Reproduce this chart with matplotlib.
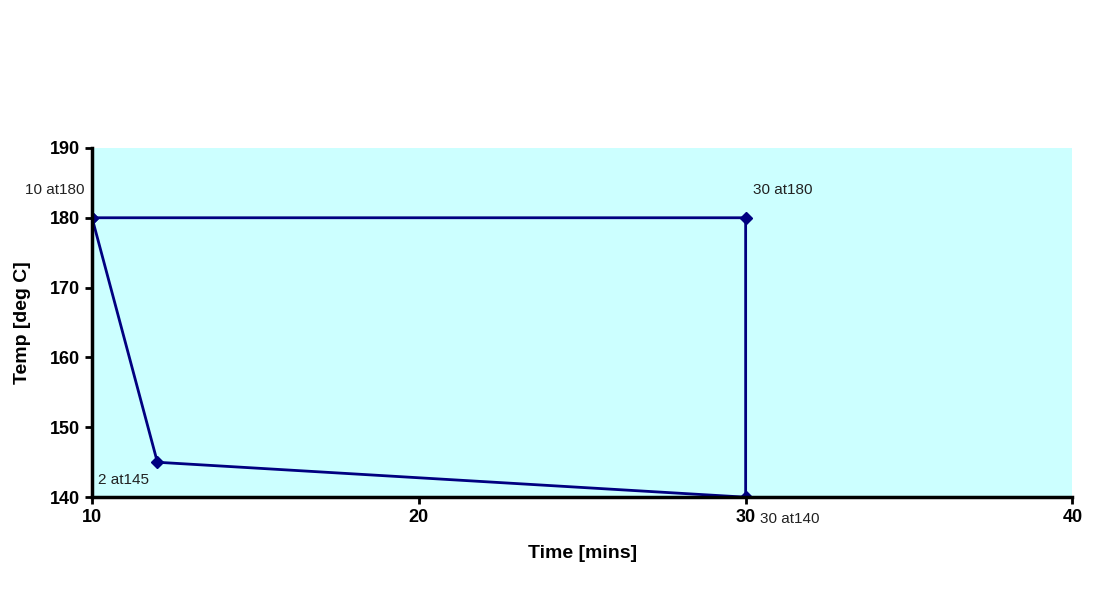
import matplotlib
matplotlib.use('Agg')
import matplotlib.pyplot as plt

plt.rcParams['font.family'] = ['Liberation Sans', 'DejaVu Sans']

# path of the temperature cycle
time_min = [10, 12, 30, 30, 10]
temp_c = [180, 145, 140, 180, 180]
point_labels = ['10 at180', '2 at145', '30 at140', '30 at180']
label_offsets = [(-48, 20), (-43, -13), (10, -16), (5, 20)]

fig = plt.figure(figsize=(10.93, 5.94), dpi=100)
ax = fig.add_axes([0.0842, 0.163, 0.897, 0.588])
ax.set_facecolor('#CCFFFF')

ax.plot(time_min, temp_c, color='#000080', linewidth=2, marker='D', markersize=6)

for (x, y), lab, off in zip(zip(time_min[:4], temp_c[:4]), point_labels, label_offsets):
    ax.annotate(lab, (x, y), xytext=off, textcoords='offset points', fontsize=11,
                color='#222222', va='center', annotation_clip=False)

ax.set_xlim(10, 40)
ax.set_ylim(140, 190)
ax.set_xticks([10, 20, 30, 40])
ax.set_yticks([140, 150, 160, 170, 180, 190])
ax.tick_params(labelsize=13, width=2, length=5)
for t in ax.get_xticklabels() + ax.get_yticklabels():
    t.set_fontweight('bold')
ax.spines['top'].set_visible(False)
ax.spines['right'].set_visible(False)
ax.spines['left'].set_linewidth(2.5)
ax.spines['bottom'].set_linewidth(2.5)

ax.set_xlabel('Time [mins]', fontsize=14, fontweight='bold', labelpad=14)
ax.set_ylabel('Temp [deg C]', fontsize=14, fontweight='bold', labelpad=14)

fig.savefig('out.png', dpi=100)
